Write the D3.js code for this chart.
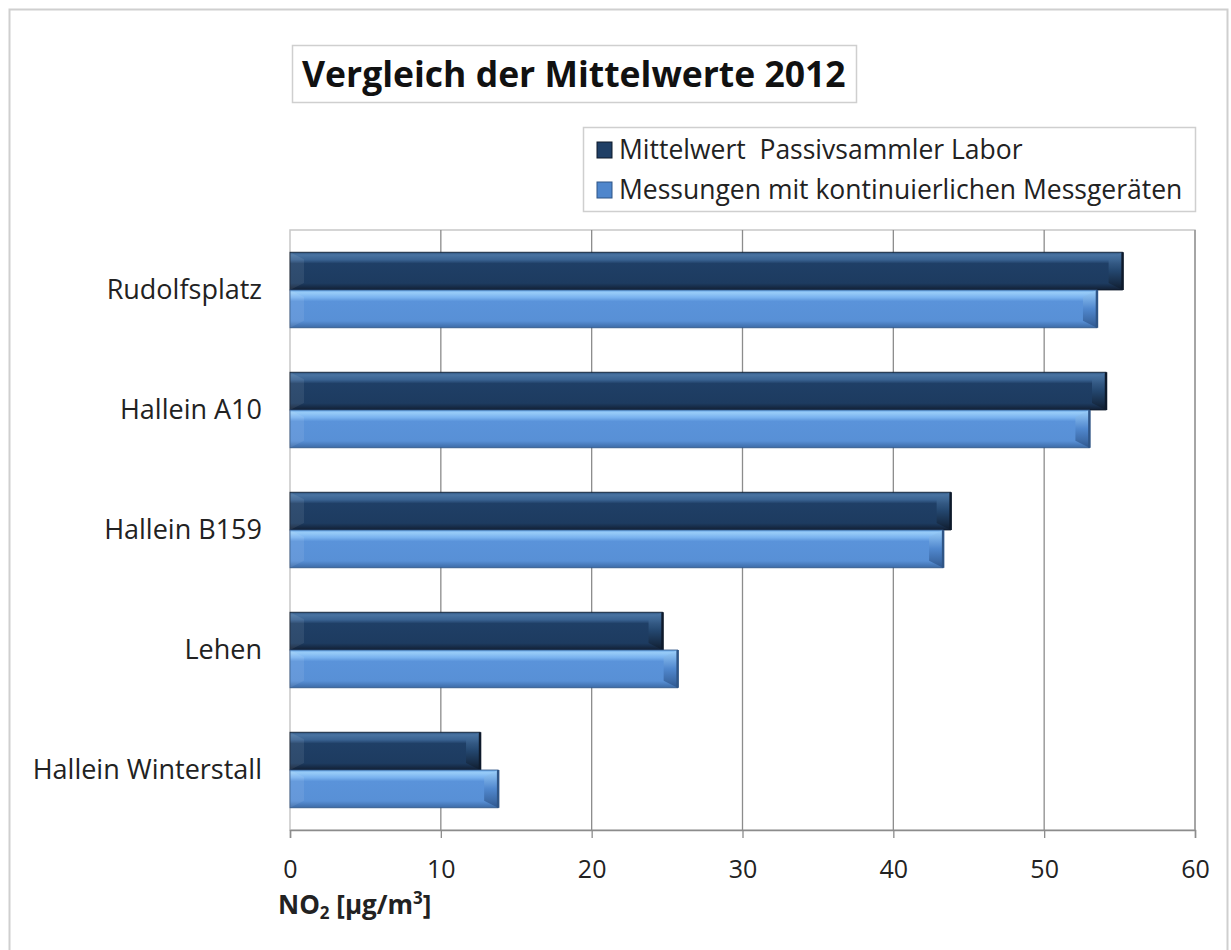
<!DOCTYPE html>
<html>
<head>
<meta charset="utf-8">
<script src="https://cdn.jsdelivr.net/npm/d3@7"></script>
<style>
  html, body { margin: 0; padding: 0; background: #fff; }
  svg { display: block; font-family: "Open Sans", Lato, sans-serif; }
</style>
</head>
<body>
<svg id="chart" width="1231" height="950"></svg>
<script>
// NO2 annual means 2012, µg/m³
const stations = ["Rudolfsplatz", "Hallein A10", "Hallein B159", "Lehen", "Hallein Winterstall"];
const seriesNames = ["Mittelwert  Passivsammler Labor", "Messungen mit kontinuierlichen Messgeräten"];
const passiveSampler = [55.2, 54.1, 43.8, 24.7, 12.6];
const continuous = [53.5, 53.0, 43.3, 25.7, 13.8];
const xTicks = [0, 10, 20, 30, 40, 50, 60];

const svg = d3.select("#chart");
const plot = { left: 290, right: 1195, top: 230, bottom: 830 };
const FONT = "'Open Sans', Lato, sans-serif";

// outer chart frame
svg.append("rect").attr("x", 9.5).attr("y", 9.5).attr("width", 1218).attr("height", 960)
  .attr("fill", "#fff").attr("stroke", "#cfcfcf").attr("stroke-width", 2);

const defs = svg.append("defs");
function vGrad(id, stops) {
  const g = defs.append("linearGradient").attr("id", id).attr("x1", 0).attr("y1", 0).attr("x2", 0).attr("y2", 1);
  stops.forEach(([o, c]) => g.append("stop").attr("offset", o).attr("stop-color", c));
}
vGrad("gDark", [[0, "#2d5480"], [0.07, "#4a74a2"], [0.2, "#3a6392"], [0.3, "#1f3f66"], [0.82, "#1d3b60"], [1, "#121f33"]]);
vGrad("gLight", [[0, "#6aa6e6"], [0.07, "#98ccf8"], [0.2, "#79b2ef"], [0.3, "#5a93da"], [0.82, "#5890d6"], [1, "#3c6aa6"]]);
vGrad("gDarkEnd", [[0, "#4e79a8"], [0.5, "#24476f"], [1, "#0f1b2c"]]);
vGrad("gLightEnd", [[0, "#9dd0fa"], [0.5, "#4f86cc"], [1, "#2d548a"]]);

const series = [
  { name: seriesNames[0], values: passiveSampler, fill: "url(#gDark)", end: "url(#gDarkEnd)", edge: "#0e1a2b", swatch: "#1f3f66" },
  { name: seriesNames[1], values: continuous, fill: "url(#gLight)", end: "url(#gLightEnd)", edge: "#2f5586", swatch: "#4f86cc" }
];

const x = d3.scaleLinear().domain([0, 60]).range([plot.left, plot.right]);
const y = d3.scaleBand().domain(stations).range([plot.top, plot.bottom]).paddingInner(0.37).paddingOuter(0.185);
const ySub = d3.scaleBand().domain([0, 1]).range([0, y.bandwidth()]);

// plot area frame and vertical gridlines
svg.append("rect").attr("x", plot.left).attr("y", plot.top).attr("width", plot.right - plot.left)
  .attr("height", plot.bottom - plot.top).attr("fill", "none").attr("stroke", "#c8c8c8").attr("stroke-width", 1.5);
svg.append("g").selectAll("line").data(xTicks.slice(1)).join("line")
  .attr("x1", d => x(d)).attr("x2", d => x(d)).attr("y1", plot.top).attr("y2", plot.bottom)
  .attr("stroke", "#8c8c8c").attr("stroke-width", 1.3);

// x axis
const xAxis = svg.append("g").attr("transform", `translate(0,${plot.bottom})`)
  .call(d3.axisBottom(x).tickValues(xTicks).tickSize(8).tickPadding(22));
xAxis.select(".domain").attr("stroke", "#8c8c8c").attr("stroke-width", 1.5);
xAxis.selectAll(".tick line").attr("stroke", "#8c8c8c").attr("stroke-width", 1.3);
xAxis.selectAll(".tick text").attr("font-family", FONT).attr("font-size", 25).attr("fill", "#222");

// y axis category labels
svg.append("g").selectAll("text").data(stations).join("text")
  .attr("x", 262).attr("y", d => y(d) + y.bandwidth() / 2).attr("dy", "0.35em")
  .attr("text-anchor", "end").attr("font-size", 27).attr("fill", "#222").text(d => d);

// bars with bevelled end cap
const bev = 7;
series.forEach((s, i) => {
  const g = svg.append("g");
  stations.forEach((st, j) => {
    const y0 = y(st) + ySub(i), h = ySub.bandwidth(), x0 = x(0), x1 = x(s.values[j]);
    g.append("rect").attr("x", x0).attr("y", y0).attr("width", x1 - x0).attr("height", h)
      .attr("fill", s.fill).attr("stroke", s.edge).attr("stroke-width", 0.8);
    // end cap
    g.append("path").attr("d", `M${x1 - bev * 2},${y0 + bev} L${x1},${y0} L${x1},${y0 + h} L${x1 - bev * 2},${y0 + h - bev} Z`)
      .attr("fill", s.end).attr("opacity", 0.9);
    g.append("line").attr("x1", x1).attr("x2", x1).attr("y1", y0).attr("y2", y0 + h)
      .attr("stroke", s.edge).attr("stroke-width", 2.5);
    // start cap shading
    g.append("path").attr("d", `M${x0},${y0} L${x0 + bev * 2},${y0 + bev} L${x0 + bev * 2},${y0 + h - bev} L${x0},${y0 + h} Z`)
      .attr("fill", "#fff").attr("opacity", 0.08);
  });
});

// axis title with subscript / superscript
const axisTitle = svg.append("text").attr("x", 278).attr("y", 914).attr("font-size", 26).attr("font-weight", "bold").attr("fill", "#222");
axisTitle.append("tspan").text("NO");
axisTitle.append("tspan").attr("font-size", 17).attr("dy", 5).text("2");
axisTitle.append("tspan").attr("dy", -5).text(" [µg/m");
axisTitle.append("tspan").attr("font-size", 17).attr("dy", -10).text("3");
axisTitle.append("tspan").attr("dy", 10).text("]");

// title box
svg.append("rect").attr("x", 292.5).attr("y", 45.5).attr("width", 564).attr("height", 57)
  .attr("fill", "#fff").attr("stroke", "#cfcfcf").attr("stroke-width", 1.5);
svg.append("text").attr("x", 302).attr("y", 87)
  .attr("font-size", 35.5).attr("font-weight", "bold").attr("fill", "#111").text("Vergleich der Mittelwerte 2012");

// legend
const legend = svg.append("g");
legend.append("rect").attr("x", 583.5).attr("y", 127.5).attr("width", 612).attr("height", 84)
  .attr("fill", "#fff").attr("stroke", "#cfcfcf").attr("stroke-width", 1.5);
series.forEach((s, i) => {
  const ly = 150 + i * 40;
  legend.append("rect").attr("x", 597).attr("y", ly - 8).attr("width", 15).attr("height", 16)
    .attr("fill", s.swatch).attr("stroke", s.edge).attr("stroke-width", 1);
  legend.append("text").attr("x", 619).attr("y", ly).attr("dy", "0.35em")
    .attr("font-size", 26.5).attr("fill", "#222").attr("xml:space", "preserve").text(s.name);
});
</script>
</body>
</html>
